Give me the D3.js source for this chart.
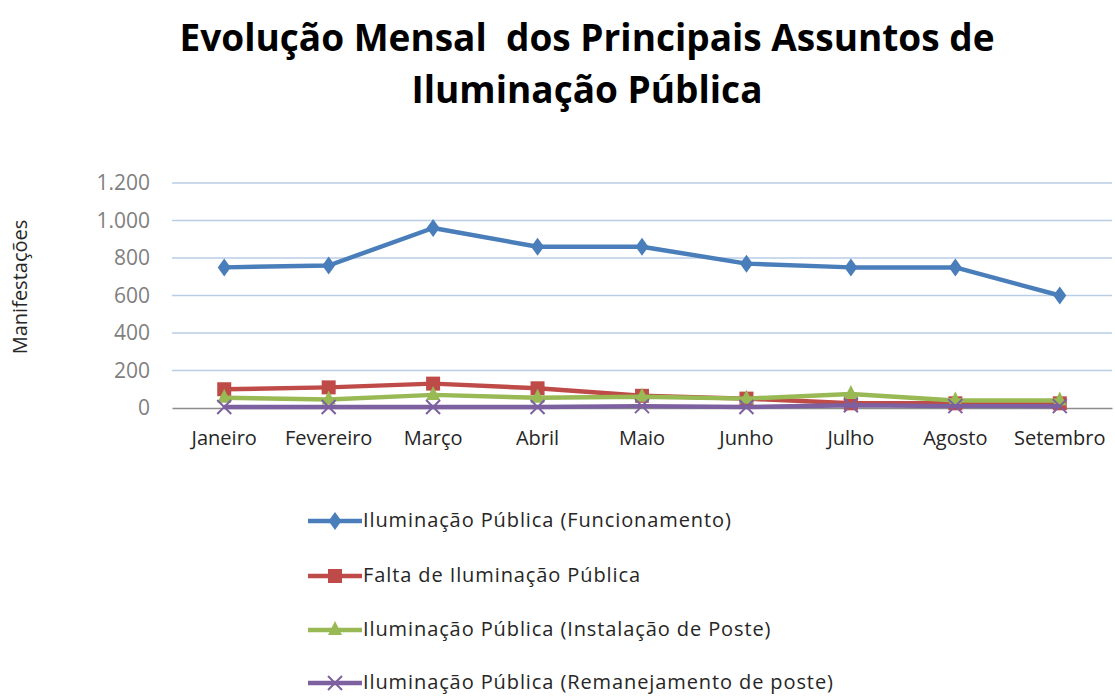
<!DOCTYPE html>
<html><head><meta charset="utf-8">
<script src="https://cdn.jsdelivr.net/npm/d3@7"></script>
<style>body{margin:0;background:#fff;} text{font-family:"Open Sans","Noto Sans",sans-serif;}</style>
</head><body>
<svg id="c" width="1115" height="696"></svg>
<script>
const categories = ["Janeiro","Fevereiro","Março","Abril","Maio","Junho","Julho","Agosto","Setembro"];
const funcionamento = [750,760,960,860,860,770,750,750,600];
const falta = [100,110,130,105,65,50,25,25,25];
const instalacao = [55,45,70,55,60,50,75,40,40];
const remanejamento = [5,5,5,5,10,5,15,10,10];
const seriesNames = ["Iluminação Pública (Funcionamento)","Falta de Iluminação Pública","Iluminação Pública (Instalação de Poste)","Iluminação Pública (Remanejamento de poste)"];
const yTicks = [0,200,400,600,800,1000,1200];
const colors = ["#4a7ebb","#be4b48","#98b954","#7d60a0"];
const markers = ["diamond","square","triangle","cross"];

const svg = d3.select("#c");
const x = d3.scaleBand().domain(categories).range([172,1112]);
const y = d3.scaleLinear().domain([0,1200]).range([408,183]);
const fmt = v => v >= 1000 ? d3.format(",")(v).replace(",", ".") : String(v);

// title
svg.append("text").attr("x",587).attr("y",51).attr("text-anchor","middle")
  .attr("font-size",37).attr("font-weight","bold").attr("fill","#000")
  .attr("xml:space","preserve").style("white-space","pre")
  .text("Evolução Mensal  dos Principais Assuntos de");
svg.append("text").attr("x",587).attr("y",103).attr("text-anchor","middle")
  .attr("font-size",37).attr("font-weight","bold").attr("fill","#000")
  .text("Iluminação Pública");

// gridlines
svg.append("g").selectAll("line").data(yTicks.filter(d=>d>0)).join("line")
  .attr("x1",172).attr("x2",1112).attr("y1",d=>y(d)).attr("y2",d=>y(d))
  .attr("stroke","#b9cde5").attr("stroke-width",1.3);

// y axis
const ya = svg.append("g").attr("transform","translate(172,0)")
  .call(d3.axisLeft(y).tickValues(yTicks).tickFormat(fmt).tickSize(0).tickPadding(22));
ya.select(".domain").remove();
ya.selectAll("text").attr("font-size",21).attr("fill","#7f7f7f").attr("font-family","Open Sans, sans-serif");

// x axis
const xa = svg.append("g").attr("transform","translate(0,408)")
  .call(d3.axisBottom(x).tickSize(0).tickPadding(23));
xa.select(".domain").attr("stroke","#8c8c8c").attr("stroke-width",1.3);
xa.selectAll("text").attr("font-size",20).attr("fill","#262626").attr("font-family","Open Sans, sans-serif");

// y label
svg.append("text").attr("transform","translate(27,287) rotate(-90)").attr("text-anchor","middle")
  .attr("font-size",20).attr("fill","#262626").text("Manifestações");

const allSeries = [funcionamento, falta, instalacao, remanejamento];
const line = d3.line().x((d,i)=>x(categories[i])+x.bandwidth()/2).y(d=>y(d));

function drawMarker(g, type, cx, cy, color){
  if(type==="diamond"){
    g.append("path").attr("d",`M${cx},${cy-9}L${cx+6.5},${cy}L${cx},${cy+9}L${cx-6.5},${cy}Z`).attr("fill",color);
  } else if(type==="square"){
    g.append("rect").attr("x",cx-7).attr("y",cy-7).attr("width",14).attr("height",14).attr("fill",color);
  } else if(type==="triangle"){
    g.append("path").attr("d",`M${cx},${cy-9}L${cx+7},${cy+5}L${cx-7},${cy+5}Z`).attr("fill",color);
  } else {
    g.append("path").attr("d",`M${cx-7},${cy-7}L${cx+7},${cy+7}M${cx-7},${cy+7}L${cx+7},${cy-7}`)
      .attr("stroke",color).attr("stroke-width",2);
  }
}

allSeries.forEach((s,k)=>{
  const g = svg.append("g");
  g.append("path").datum(s).attr("d",line).attr("fill","none").attr("stroke",colors[k])
    .attr("stroke-width",4.5).attr("stroke-linejoin","round");
  s.forEach((v,i)=>drawMarker(g, markers[k], x(categories[i])+x.bandwidth()/2, y(v), colors[k]));
});

// legend
const legY = [521,576,630,683];
seriesNames.forEach((n,k)=>{
  const g = svg.append("g");
  g.append("line").attr("x1",308).attr("x2",362).attr("y1",legY[k]).attr("y2",legY[k])
    .attr("stroke",colors[k]).attr("stroke-width",4.5);
  drawMarker(g, markers[k], 335, legY[k], colors[k]);
  g.append("text").attr("x",363).attr("y",legY[k]+6).attr("font-size",20)
    .attr("letter-spacing",0.9).attr("fill","#262626").text(n);
});
</script>
</body></html>
